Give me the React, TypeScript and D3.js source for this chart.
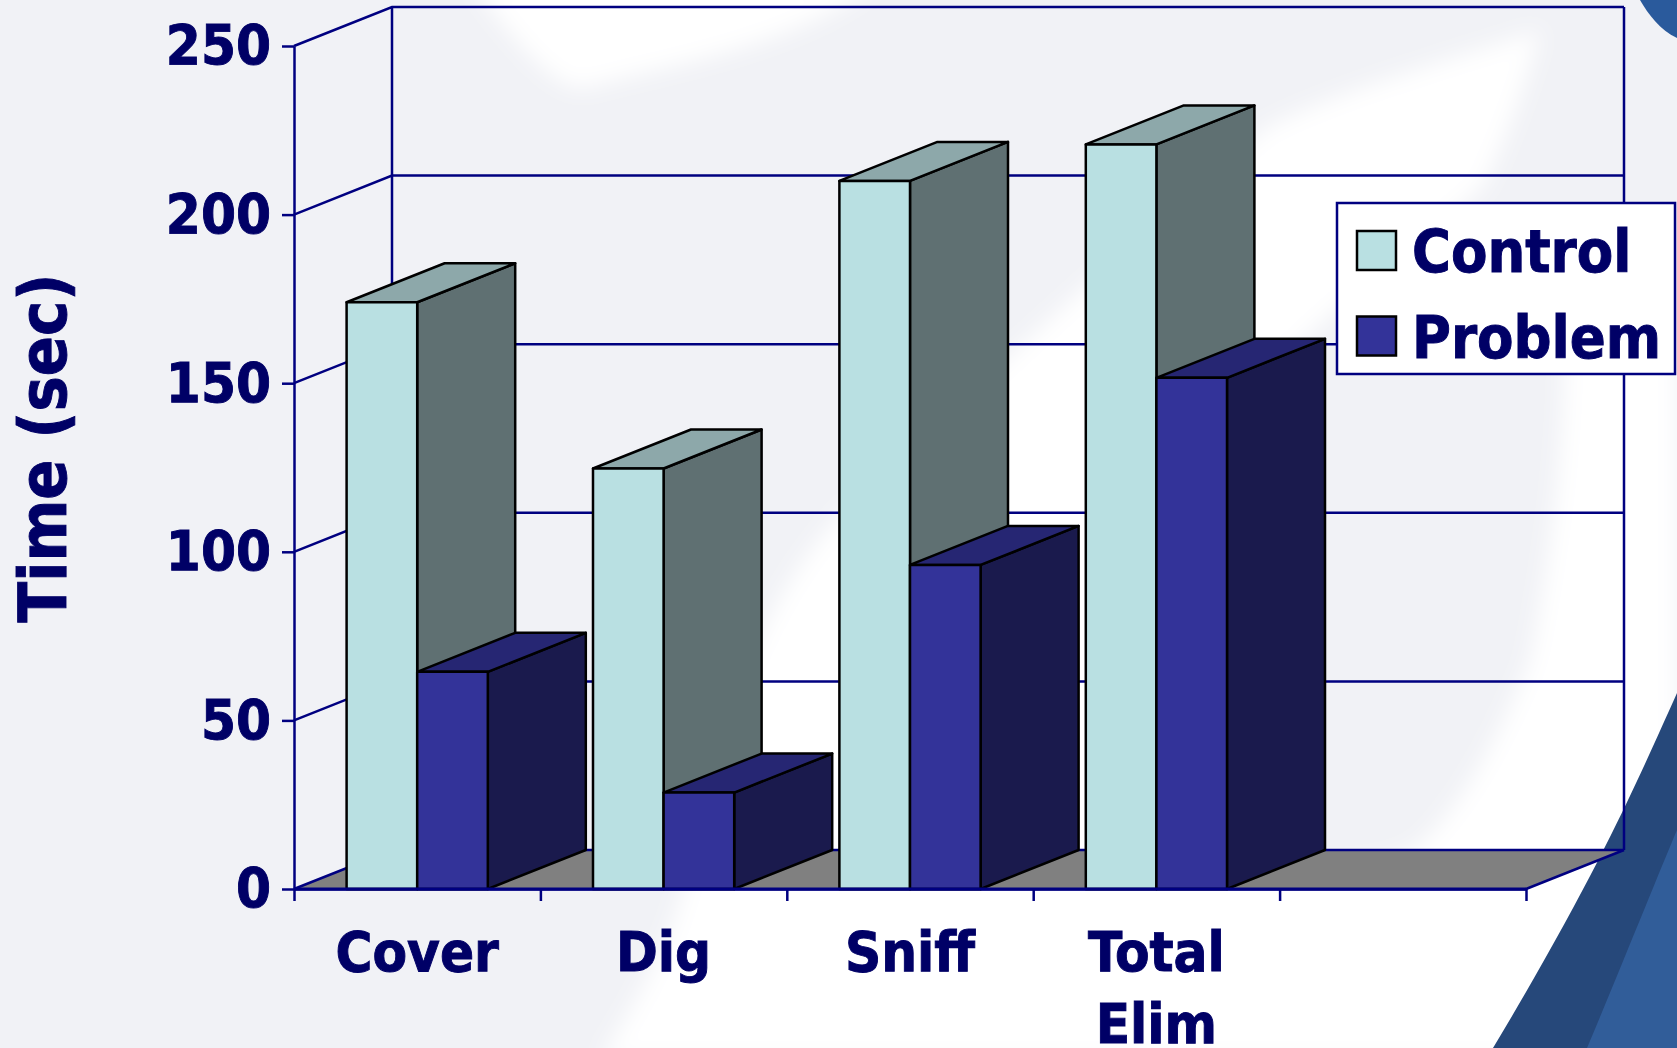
import { useEffect, useRef } from 'react'
import * as d3 from 'd3'

const WIDTH = 1677
const HEIGHT = 1048

const categories = ['Cover', 'Dig', 'Sniff', 'Total Elim', '']
const seriesNames = ['Control', 'Problem']
const controlValues = [174, 124.7, 210, 220.8]
const problemValues = [64.4, 28.6, 96.1, 151.6]
const yTicks = [0, 50, 100, 150, 200, 250]

const NAVY = '#000066'
const LINE = '#000080'
const FONT = '"DejaVu Sans", Verdana, sans-serif'

const palette: Record<string, { front: string; top: string; side: string }> = {
  Control: { front: '#b9e0e2', top: '#8da8aa', side: '#5f7072' },
  Problem: { front: '#333399', top: '#262673', side: '#1a1a4d' },
}

// Slide artwork behind the chart
const whiteShapes = [
  'M470,-20 C520,50 560,92 585,88 C680,62 800,45 880,-20 Z',
  'M1540,30 C1450,60 1340,90 1267,127 C1100,270 950,410 838,518 C770,590 715,720 690,860 C680,920 650,980 600,1060 L1677,1060 L1677,340 L1565,340 C1565,450 1550,560 1530,660 C1510,710 1470,800 1417,847 C1380,870 1300,870 1250,860 L1250,400 C1290,340 1400,260 1483,187 C1510,130 1530,70 1540,30 Z',
]
const blueShapes = [
  { d: 'M1677,693 C1640,775 1600,870 1493,1048 L1677,1048 Z', fill: '#26487a' },
  { d: 'M1677,830 C1660,870 1620,970 1587,1048 L1677,1048 Z', fill: '#315d99' },
  { d: 'M1640,0 C1648,14 1660,30 1677,38 L1677,0 Z', fill: '#2a5a9c' },
]

function styleText(sel: d3.Selection<any, any, any, any>, size: number) {
  sel
    .attr('fill', NAVY)
    .attr('stroke', NAVY)
    .attr('stroke-width', 0.9)
    .attr('font-family', FONT)
    .attr('font-stretch', 'condensed')
    .attr('font-weight', 700)
    .attr('font-size', size)
}

export default function App() {
  const svgRef = useRef<SVGSVGElement>(null)

  useEffect(() => {
    if (!svgRef.current) return
    document.body.style.margin = '0'

    const svg = d3.select(svgRef.current)
    svg.selectAll('*').remove()

    const depthX = 98
    const depthY = -39

    const xScale = d3.scaleBand<string>().domain(categories).range([294, 1526])
    const yScale = d3.scaleLinear().domain([0, 250]).range([889, 46])
    const subScale = d3
      .scaleBand<string>()
      .domain(seriesNames)
      .range([0, xScale.bandwidth()])
      .paddingOuter(0.745)
      .paddingInner(0)

    const [x0, x1] = xScale.range()
    const [y0, yTop] = yScale.range()

    // Background
    svg
      .append('defs')
      .append('filter')
      .attr('id', 'soft')
      .attr('x', '-20%')
      .attr('y', '-20%')
      .attr('width', '140%')
      .attr('height', '140%')
      .append('feGaussianBlur')
      .attr('stdDeviation', 11)

    svg.append('rect').attr('width', WIDTH).attr('height', HEIGHT).attr('fill', '#f1f2f6')

    svg
      .append('g')
      .selectAll('path')
      .data(whiteShapes)
      .enter()
      .append('path')
      .attr('d', (d) => d)
      .attr('fill', '#ffffff')
      .attr('filter', 'url(#soft)')

    svg
      .append('g')
      .selectAll('path')
      .data(blueShapes)
      .enter()
      .append('path')
      .attr('d', (d) => d.d)
      .attr('fill', (d) => d.fill)

    // Floor
    svg
      .append('polygon')
      .attr(
        'points',
        [
          [x0, y0],
          [x1, y0],
          [x1 + depthX, y0 + depthY],
          [x0 + depthX, y0 + depthY],
        ].join(' '),
      )
      .attr('fill', '#808080')

    // Grid lines on the side and back walls
    const grid = svg.append('g').attr('fill', 'none').attr('stroke', LINE).attr('stroke-width', 2.5)
    yTicks.forEach((t) => {
      const y = yScale(t)
      grid
        .append('polyline')
        .attr('points', [[x0, y], [x0 + depthX, y + depthY], [x1 + depthX, y + depthY]].join(' '))
    })
    grid.append('line').attr('x1', x0 + depthX).attr('x2', x0 + depthX).attr('y1', y0 + depthY).attr('y2', yTop + depthY)
    grid.append('line').attr('x1', x1 + depthX).attr('x2', x1 + depthX).attr('y1', y0 + depthY).attr('y2', yTop + depthY)
    grid.append('line').attr('x1', x1).attr('x2', x1 + depthX).attr('y1', y0).attr('y2', y0 + depthY)

    // Axes
    const yAxis = svg
      .append('g')
      .attr('transform', `translate(${x0},0)`)
      .call(d3.axisLeft(yScale).tickValues(yTicks).tickSize(12).tickPadding(11).tickSizeOuter(0))
    const xAxis = svg
      .append('g')
      .attr('transform', `translate(0,${y0})`)
      .call(
        d3
          .axisBottom(d3.scaleLinear().domain([0, 5]).range([x0, x1]))
          .ticks(5)
          .tickSize(12)
          .tickSizeOuter(0)
          .tickFormat(() => ''),
      )
    ;[yAxis, xAxis].forEach((axis) => {
      axis.selectAll('.domain, .tick line').attr('stroke', LINE).attr('stroke-width', 2.5)
    })
    styleText(yAxis.selectAll('text'), 56)

    // Bars
    const bars = svg.append('g').attr('stroke', '#000').attr('stroke-width', 2.5).attr('stroke-linejoin', 'round')
    categories.slice(0, 4).forEach((cat, i) => {
      seriesNames.forEach((name) => {
        const value = (name === 'Control' ? controlValues : problemValues)[i]
        const left = (xScale(cat) ?? 0) + (subScale(name) ?? 0)
        const right = left + subScale.bandwidth()
        const top = yScale(value)
        const c = palette[name]
        bars
          .append('polygon')
          .attr('points', [[right, top], [right + depthX, top + depthY], [right + depthX, y0 + depthY], [right, y0]].join(' '))
          .attr('fill', c.side)
        bars
          .append('polygon')
          .attr('points', [[left, top], [left + depthX, top + depthY], [right + depthX, top + depthY], [right, top]].join(' '))
          .attr('fill', c.top)
        bars
          .append('rect')
          .attr('x', left)
          .attr('y', top)
          .attr('width', right - left)
          .attr('height', y0 - top)
          .attr('fill', c.front)
      })
    })

    // Redraw baseline over the bars
    svg.append('line').attr('x1', x0).attr('x2', x1).attr('y1', y0).attr('y2', y0).attr('stroke', LINE).attr('stroke-width', 3)

    // Category labels
    const xLabels = svg.append('g').attr('text-anchor', 'middle')
    styleText(xLabels, 56)
    categories.slice(0, 4).forEach((cat) => {
      const cx = (xScale(cat) ?? 0) + xScale.bandwidth() / 2
      cat.split(' ').forEach((word, j) => {
        xLabels.append('text').attr('x', cx).attr('y', 971 + j * 72).text(word)
      })
    })

    const yTitle = svg
      .append('text')
      .attr('transform', 'translate(66,448) rotate(-90)')
      .attr('text-anchor', 'middle')
      .text('Time (sec)')
    styleText(yTitle, 66)

    // Legend
    const legend = svg.append('g')
    legend
      .append('rect')
      .attr('x', 1337)
      .attr('y', 203)
      .attr('width', 338)
      .attr('height', 171)
      .attr('fill', '#fff')
      .attr('stroke', LINE)
      .attr('stroke-width', 2.5)
    seriesNames.forEach((name, i) => {
      legend
        .append('rect')
        .attr('x', 1357)
        .attr('y', 231 + i * 85.5)
        .attr('width', 39)
        .attr('height', 39)
        .attr('fill', palette[name].front)
        .attr('stroke', '#000')
        .attr('stroke-width', 2.5)
      const label = legend
        .append('text')
        .attr('x', 1412)
        .attr('y', 272 + i * 86)
        .text(name)
      styleText(label, 59)
    })
  }, [])

  return (
    <svg
      ref={svgRef}
      width={WIDTH}
      height={HEIGHT}
      style={{ position: 'absolute', left: 0, top: 0, display: 'block' }}
    />
  )
}
